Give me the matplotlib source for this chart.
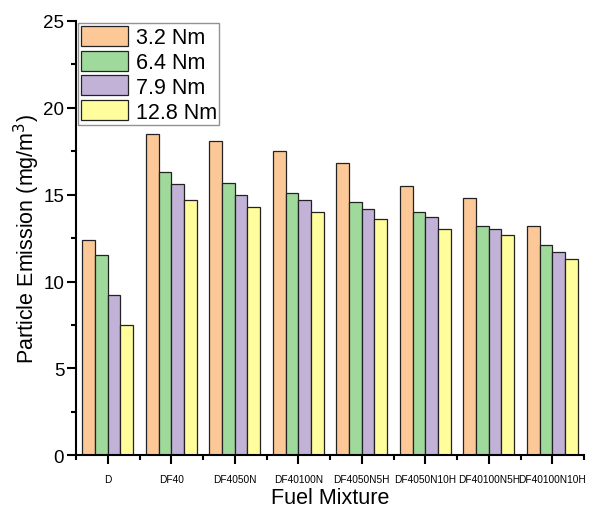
import matplotlib
matplotlib.use("Agg")
import matplotlib.pyplot as plt
import numpy as np
from matplotlib.ticker import MultipleLocator

plt.rcParams["font.family"] = ["Liberation Sans", "DejaVu Sans"]

fuels = ["D", "DF40", "DF4050N", "DF40100N", "DF4050N5H",
         "DF4050N10H", "DF40100N5H", "DF40100N10H"]
loads = ["3.2 Nm", "6.4 Nm", "7.9 Nm", "12.8 Nm"]
pm_32 = [12.4, 18.5, 18.1, 17.5, 16.8, 15.5, 14.8, 13.2]
pm_64 = [11.5, 16.3, 15.7, 15.1, 14.6, 14.0, 13.2, 12.1]
pm_79 = [9.2, 15.6, 15.0, 14.7, 14.2, 13.7, 13.0, 11.7]
pm_128 = [7.5, 14.7, 14.3, 14.0, 13.6, 13.0, 12.7, 11.3]

colors = ["#FDC897", "#9FD99C", "#C2B2D7", "#FFFD9C"]
series = [pm_32, pm_64, pm_79, pm_128]

fig = plt.figure(figsize=(6.15, 5.10), dpi=100)
ax = fig.add_axes([0.1236, 0.1053, 0.826, 0.8517])

x = np.arange(len(fuels))
w = 0.2
for i, (vals, lab) in enumerate(zip(series, loads)):
    ax.bar(x + (i - 1.5) * w, vals, width=w, color=colors[i],
           edgecolor="#222222", linewidth=0.9, label=lab)

ax.set_xlim(-0.5, len(fuels) - 0.5)
ax.set_ylim(0, 25)
ax.set_xticks(x)
ax.set_xticklabels(fuels, fontsize=7.3)
ax.set_xticks(np.arange(len(fuels) + 1) - 0.5, minor=True)
ax.yaxis.set_major_locator(MultipleLocator(5))
ax.yaxis.set_minor_locator(MultipleLocator(2.5))
ax.tick_params(axis="both", which="major", direction="out", length=6.5, width=1.5)
ax.tick_params(axis="both", which="minor", direction="out", length=3.5, width=1.5)
ax.tick_params(axis="y", labelsize=13.5, pad=2)
ax.tick_params(axis="x", pad=7)

for s in ["top", "right"]:
    ax.spines[s].set_visible(False)
for s in ["left", "bottom"]:
    ax.spines[s].set_linewidth(1.5)

ax.set_xlabel("Fuel Mixture", fontsize=15.5, labelpad=2)
ax.set_ylabel("Particle Emission (mg/m$^3$)", fontsize=15.5, labelpad=1)

leg = ax.legend(loc="upper left", fontsize=15.5, frameon=True, fancybox=False,
                handlelength=2.2, handleheight=1.05, labelspacing=0.12,
                handletextpad=0.35, borderpad=0.12, borderaxespad=0.1)
leg.get_frame().set_edgecolor("#777777")
leg.get_frame().set_linewidth(1.0)

fig.savefig("out.png", dpi=100)
